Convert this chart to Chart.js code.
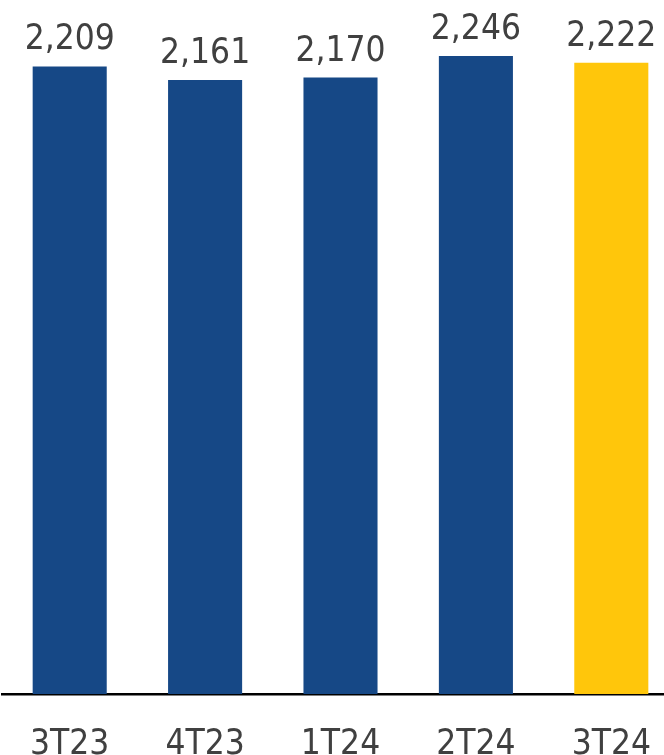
<!DOCTYPE html>
<html><head><meta charset="utf-8">
<script src="https://cdn.jsdelivr.net/npm/chart.js@4/dist/chart.umd.min.js"></script>
<style>html,body{margin:0;padding:0;overflow:hidden;background:#fff;width:664px;height:755px}canvas{display:block}</style>
</head><body>
<canvas id="c" width="679" height="755"></canvas>
<script>
const categories = ["3T23","4T23","1T24","2T24","3T24"];
const values = [2209, 2161, 2170, 2246, 2222];
const labels = ["2,209","2,161","2,170","2,246","2,222"];
const barColors = ["#164886","#164886","#164886","#164886","#FFC60B"];

const FONT = "'DejaVu Sans Condensed', 'DejaVu Sans', Verdana, sans-serif";

const valueLabels = {
  id: 'valueLabels',
  afterDatasetsDraw(chart) {
    const ctx = chart.ctx;
    const meta = chart.getDatasetMeta(0);
    ctx.save();
    ctx.font = "35px " + FONT;
    ctx.fillStyle = "#404040";
    ctx.textAlign = "center";
    ctx.textBaseline = "alphabetic";
    meta.data.forEach((bar, i) => {
      ctx.fillText(labels[i], bar.x, bar.y - 17);
    });
    ctx.restore();
  }
};

new Chart(document.getElementById('c'), {
  type: 'bar',
  data: {
    labels: categories,
    datasets: [{
      data: values,
      backgroundColor: barColors,
      borderWidth: 0,
      barPercentage: 0.547,
      categoryPercentage: 1
    }]
  },
  options: {
    responsive: false,
    animation: false,
    devicePixelRatio: 1,
    layout: { padding: { left: 2, right: 0, top: 0, bottom: 0 } },
    plugins: { legend: { display: false }, tooltip: { enabled: false } },
    scales: {
      x: {
        grid: { display: true, drawOnChartArea: false, drawTicks: true, tickLength: 30, tickColor: 'rgba(0,0,0,0)' },
        border: { display: true, color: '#000', width: 2.5 },
        ticks: { color: '#404040', font: { family: FONT, size: 35 }, padding: 0, maxRotation: 0 },
        afterFit(scale) { scale.height = 61; }
      },
      y: {
        display: false,
        min: 0,
        max: 2443
      }
    }
  },
  plugins: [valueLabels]
});
</script>
</body></html>
